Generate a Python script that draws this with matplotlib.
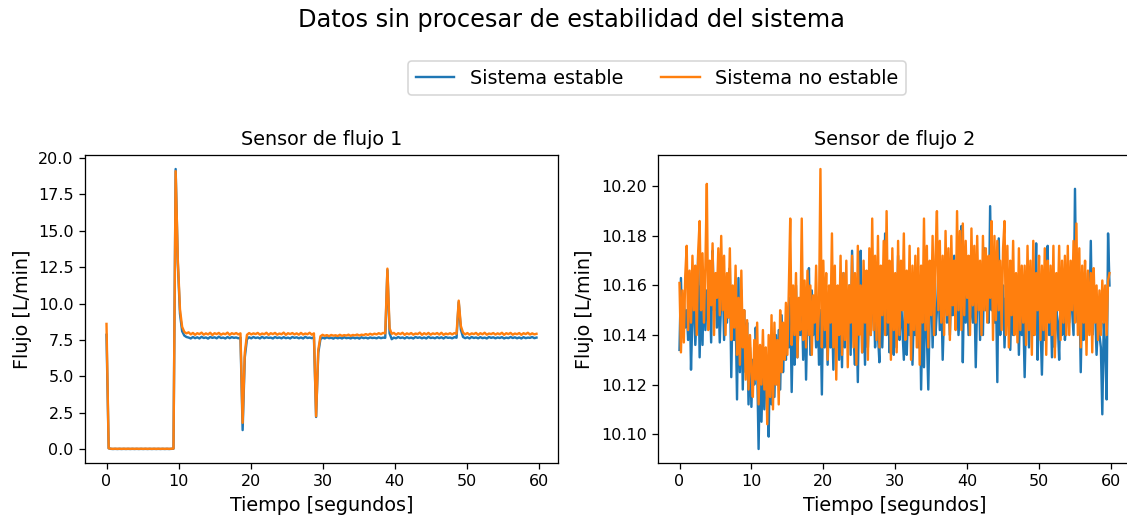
import numpy as np
import matplotlib
matplotlib.use("Agg")
import matplotlib.pyplot as plt

# Sampling periods (seconds) of the two flow sensors
period_sensor1 = 0.3
period_sensor2 = 0.2

# Sensor 1 flow [L/min]
flow1_stable = [
    7.85, 0.05, 0.01, 0.00, 0.01, 0.00, 0.01, 0.00, 0.01, 0.00,
    0.01, 0.00, 0.01, 0.00, 0.01, 0.00, 0.01, 0.00, 0.01, 0.00,
    0.01, 0.00, 0.01, 0.00, 0.01, 0.00, 0.01, 0.00, 0.01, 0.00,
    0.01, 0.02, 19.25, 12.80, 9.30, 8.10, 7.80, 7.70, 7.66, 7.60,
    7.70, 7.62, 7.68, 7.60, 7.71, 7.63, 7.67, 7.59, 7.70, 7.64,
    7.68, 7.61, 7.72, 7.63, 7.66, 7.60, 7.70, 7.62, 7.69, 7.64,
    7.67, 7.61, 7.66, 1.30, 6.30, 7.55, 7.68, 7.61, 7.70, 7.63,
    7.67, 7.60, 7.71, 7.62, 7.68, 7.64, 7.66, 7.60, 7.70, 7.63,
    7.67, 7.61, 7.69, 7.62, 7.66, 7.60, 7.70, 7.64, 7.68, 7.61,
    7.67, 7.60, 7.71, 7.63, 7.66, 7.62, 7.69, 2.20, 6.60, 7.55,
    7.66, 7.60, 7.68, 7.62, 7.65, 7.59, 7.67, 7.61, 7.66, 7.60,
    7.68, 7.62, 7.65, 7.60, 7.67, 7.61, 7.66, 7.59, 7.68, 7.62,
    7.66, 7.60, 7.67, 7.63, 7.65, 7.61, 7.68, 7.62, 7.66, 7.64,
    12.30, 7.95, 7.55, 7.66, 7.61, 7.70, 7.63, 7.67, 7.60, 7.69,
    7.62, 7.66, 7.60, 7.70, 7.64, 7.68, 7.61, 7.67, 7.60, 7.71,
    7.63, 7.66, 7.61, 7.69, 7.62, 7.68, 7.60, 7.70, 7.64, 7.66,
    7.61, 7.69, 7.65, 10.10, 8.20, 7.70, 7.62, 7.68, 7.60, 7.70,
    7.63, 7.67, 7.61, 7.69, 7.62, 7.66, 7.60, 7.70, 7.64, 7.68,
    7.61, 7.67, 7.63, 7.69, 7.60, 7.66, 7.62, 7.70, 7.63, 7.68,
    7.61, 7.67, 7.60, 7.69, 7.62, 7.66, 7.64, 7.70, 7.62, 7.66,
]
flow1_unstable = [
    8.60, 0.05, 0.02, 0.01, 0.02, 0.01, 0.02, 0.01, 0.02, 0.01,
    0.02, 0.01, 0.02, 0.01, 0.02, 0.01, 0.02, 0.01, 0.02, 0.01,
    0.02, 0.01, 0.02, 0.01, 0.02, 0.01, 0.02, 0.01, 0.02, 0.01,
    0.02, 0.03, 19.10, 13.00, 9.60, 8.40, 8.05, 7.95, 8.02, 7.88,
    7.98, 7.85, 7.96, 7.90, 8.00, 7.86, 7.95, 7.88, 7.99, 7.84,
    7.96, 7.90, 7.98, 7.86, 7.94, 7.89, 8.00, 7.85, 7.96, 7.90,
    7.97, 7.88, 7.95, 1.80, 6.60, 7.85, 7.97, 7.88, 7.95, 7.90,
    7.98, 7.86, 7.94, 7.89, 7.99, 7.85, 7.96, 7.90, 7.98, 7.86,
    7.94, 7.89, 8.00, 7.85, 7.96, 7.90, 7.97, 7.88, 7.95, 7.86,
    7.98, 7.87, 7.94, 7.89, 7.99, 7.86, 7.95, 2.25, 6.80, 7.75,
    7.85, 7.78, 7.83, 7.76, 7.84, 7.79, 7.82, 7.77, 7.85, 7.78,
    7.83, 7.80, 7.86, 7.78, 7.84, 7.81, 7.87, 7.80, 7.86, 7.83,
    7.90, 7.84, 7.92, 7.86, 7.93, 7.88, 7.96, 7.90, 7.98, 7.95,
    12.40, 8.30, 7.92, 7.98, 7.86, 7.96, 7.90, 7.99, 7.85, 7.95,
    7.89, 7.97, 7.86, 7.94, 7.90, 8.00, 7.85, 7.96, 7.88, 7.98,
    7.86, 7.95, 7.90, 7.97, 7.87, 7.99, 7.85, 7.94, 7.89, 7.96,
    7.88, 7.97, 7.92, 10.20, 8.45, 8.00, 7.88, 7.97, 7.86, 7.95,
    7.90, 7.98, 7.85, 7.96, 7.89, 7.99, 7.86, 7.94, 7.90, 7.97,
    7.87, 7.95, 7.89, 7.99, 7.85, 7.96, 7.90, 7.98, 7.86, 7.94,
    7.89, 7.97, 7.85, 7.96, 7.90, 7.99, 7.87, 7.95, 7.88, 7.92,
]

# Sensor 2 flow [L/min]
flow2_stable = [
    10.134, 10.163, 10.140, 10.155, 10.143, 10.150, 10.138, 10.160, 10.126, 10.148, 10.155, 10.136, 10.150, 10.173, 10.131,
    10.160, 10.136, 10.165, 10.142, 10.158, 10.145, 10.162, 10.137, 10.174, 10.150, 10.163, 10.143, 10.160, 10.137, 10.155,
    10.165, 10.138, 10.158, 10.145, 10.160, 10.167, 10.123, 10.156, 10.138, 10.150, 10.114, 10.163, 10.125, 10.158, 10.118,
    10.150, 10.125, 10.145, 10.112, 10.135, 10.111, 10.130, 10.120, 10.143, 10.128, 10.094, 10.130, 10.105, 10.128, 10.110,
    10.125, 10.115, 10.099, 10.138, 10.112, 10.135, 10.115, 10.140, 10.120, 10.142, 10.118, 10.148, 10.125, 10.140, 10.130,
    10.150, 10.135, 10.155, 10.117, 10.148, 10.128, 10.160, 10.131, 10.152, 10.140, 10.155, 10.130, 10.158, 10.122, 10.150,
    10.167, 10.132, 10.158, 10.140, 10.150, 10.135, 10.155, 10.128, 10.150, 10.116, 10.160, 10.135, 10.155, 10.128, 10.150,
    10.135, 10.150, 10.126, 10.158, 10.135, 10.148, 10.130, 10.155, 10.127, 10.165, 10.135, 10.152, 10.140, 10.160, 10.132,
    10.174, 10.140, 10.128, 10.150, 10.121, 10.160, 10.174, 10.133, 10.150, 10.128, 10.160, 10.135, 10.155, 10.140, 10.150,
    10.158, 10.135, 10.150, 10.140, 10.129, 10.165, 10.135, 10.155, 10.181, 10.140, 10.160, 10.133, 10.150, 10.138, 10.132,
    10.160, 10.135, 10.172, 10.138, 10.155, 10.142, 10.130, 10.165, 10.132, 10.150, 10.140, 10.158, 10.128, 10.150, 10.140,
    10.155, 10.135, 10.160, 10.118, 10.150, 10.127, 10.158, 10.140, 10.118, 10.150, 10.165, 10.135, 10.158, 10.140, 10.150,
    10.165, 10.142, 10.158, 10.130, 10.150, 10.170, 10.145, 10.155, 10.140, 10.160, 10.148, 10.172, 10.145, 10.155, 10.140,
    10.150, 10.184, 10.129, 10.165, 10.145, 10.160, 10.140, 10.155, 10.150, 10.145, 10.160, 10.127, 10.155, 10.168, 10.138,
    10.165, 10.140, 10.175, 10.150, 10.160, 10.145, 10.192, 10.150, 10.170, 10.145, 10.160, 10.121, 10.179, 10.140, 10.155,
    10.160, 10.135, 10.155, 10.145, 10.165, 10.134, 10.158, 10.140, 10.150, 10.148, 10.160, 10.132, 10.155, 10.140, 10.150,
    10.123, 10.150, 10.160, 10.135, 10.155, 10.145, 10.140, 10.150, 10.177, 10.130, 10.155, 10.145, 10.124, 10.150, 10.138,
    10.155, 10.176, 10.140, 10.155, 10.131, 10.160, 10.135, 10.150, 10.145, 10.130, 10.158, 10.140, 10.150, 10.138, 10.145,
    10.155, 10.145, 10.160, 10.150, 10.140, 10.199, 10.150, 10.145, 10.160, 10.125, 10.155, 10.138, 10.165, 10.140, 10.150,
    10.145, 10.178, 10.140, 10.155, 10.150, 10.132, 10.145, 10.140, 10.135, 10.108, 10.145, 10.135, 10.114, 10.181, 10.160,
]
flow2_unstable = [
    10.161, 10.133, 10.158, 10.137, 10.164, 10.176, 10.142, 10.166, 10.145, 10.172, 10.150, 10.168, 10.140, 10.174, 10.186,
    10.150, 10.173, 10.145, 10.168, 10.201, 10.142, 10.170, 10.152, 10.177, 10.140, 10.165, 10.155, 10.175, 10.148, 10.180,
    10.150, 10.172, 10.140, 10.165, 10.147, 10.175, 10.138, 10.160, 10.143, 10.168, 10.132, 10.155, 10.128, 10.166, 10.135,
    10.150, 10.122, 10.146, 10.118, 10.140, 10.125, 10.115, 10.138, 10.122, 10.145, 10.112, 10.136, 10.120, 10.142, 10.118,
    10.135, 10.104, 10.140, 10.115, 10.148, 10.110, 10.145, 10.120, 10.138, 10.112, 10.150, 10.125, 10.145, 10.130, 10.153,
    10.132, 10.158, 10.187, 10.136, 10.160, 10.140, 10.165, 10.131, 10.155, 10.142, 10.187, 10.138, 10.162, 10.135, 10.166,
    10.140, 10.160, 10.132, 10.156, 10.145, 10.168, 10.138, 10.150, 10.207, 10.135, 10.170, 10.142, 10.165, 10.130, 10.160,
    10.145, 10.181, 10.135, 10.168, 10.122, 10.160, 10.140, 10.172, 10.132, 10.165, 10.138, 10.170, 10.127, 10.160, 10.145,
    10.172, 10.135, 10.165, 10.128, 10.176, 10.140, 10.160, 10.133, 10.170, 10.145, 10.166, 10.130, 10.175, 10.140, 10.187,
    10.142, 10.172, 10.138, 10.180, 10.135, 10.168, 10.148, 10.178, 10.140, 10.190, 10.145, 10.170, 10.130, 10.175, 10.142,
    10.165, 10.133, 10.178, 10.140, 10.170, 10.150, 10.181, 10.138, 10.166, 10.145, 10.176, 10.130, 10.168, 10.142, 10.172,
    10.135, 10.175, 10.128, 10.168, 10.145, 10.187, 10.142, 10.176, 10.135, 10.170, 10.148, 10.180, 10.140, 10.172, 10.190,
    10.150, 10.178, 10.145, 10.172, 10.140, 10.182, 10.148, 10.175, 10.138, 10.180, 10.152, 10.170, 10.142, 10.190, 10.150,
    10.182, 10.142, 10.185, 10.148, 10.178, 10.155, 10.172, 10.140, 10.183, 10.152, 10.176, 10.145, 10.180, 10.150, 10.170,
    10.140, 10.180, 10.150, 10.175, 10.145, 10.172, 10.155, 10.186, 10.138, 10.180, 10.146, 10.178, 10.150, 10.170, 10.142,
    10.175, 10.186, 10.140, 10.176, 10.135, 10.170, 10.148, 10.178, 10.140, 10.165, 10.137, 10.175, 10.142, 10.168, 10.145,
    10.168, 10.136, 10.176, 10.142, 10.170, 10.132, 10.178, 10.140, 10.165, 10.150, 10.172, 10.138, 10.168, 10.142, 10.175,
    10.132, 10.170, 10.145, 10.168, 10.140, 10.176, 10.131, 10.165, 10.150, 10.176, 10.138, 10.170, 10.145, 10.172, 10.140,
    10.176, 10.140, 10.170, 10.150, 10.178, 10.145, 10.185, 10.140, 10.175, 10.135, 10.168, 10.145, 10.170, 10.132, 10.166,
    10.140, 10.165, 10.133, 10.167, 10.145, 10.160, 10.138, 10.158, 10.140, 10.162, 10.145, 10.160, 10.140, 10.162, 10.165,
]

series_labels = ["Sistema estable", "Sistema no estable"]
panel_titles = ["Sensor de flujo 1", "Sensor de flujo 2"]

time1 = np.arange(len(flow1_stable)) * period_sensor1
time2 = np.arange(len(flow2_stable)) * period_sensor2

W, H = 1127, 517
DPI = 115
fig = plt.figure(figsize=(W / DPI, H / DPI), dpi=DPI)

def px_axes(x0, y0, x1, y1):
    return fig.add_axes([x0 / W, 1 - y1 / H, (x1 - x0) / W, (y1 - y0) / H])

ax1 = px_axes(85, 155, 558, 463)
ax2 = px_axes(658, 155, 1131, 463)

for ax, t, stable, unstable, title in [
    (ax1, time1, flow1_stable, flow1_unstable, panel_titles[0]),
    (ax2, time2, flow2_stable, flow2_unstable, panel_titles[1]),
]:
    ax.plot(t, stable, color="tab:blue", lw=1.5, label=series_labels[0])
    ax.plot(t, unstable, color="tab:orange", lw=1.5, label=series_labels[1])
    ax.set_title(title, fontsize=12)
    ax.set_xlabel("Tiempo [segundos]", fontsize=12)
    ax.set_ylabel("Flujo [L/min]", fontsize=12)
    ax.tick_params(labelsize=10)
    ax.set_xticks([0, 10, 20, 30, 40, 50, 60])

ax1.set_yticks(np.arange(0, 20.1, 2.5))
ax2.set_yticks([10.10, 10.12, 10.14, 10.16, 10.18, 10.20])
ax2.yaxis.set_major_formatter(matplotlib.ticker.FormatStrFormatter("%.2f"))

fig.suptitle("Datos sin procesar de estabilidad del sistema", fontsize=15,
             x=571 / W, y=1 - 20 / H, va="center")

handles, labels = ax1.get_legend_handles_labels()
fig.legend(handles, labels, loc="center", ncol=2, fontsize=12,
           bbox_to_anchor=(657 / W, 1 - 78 / H))

fig.savefig("out.png", dpi=DPI)
